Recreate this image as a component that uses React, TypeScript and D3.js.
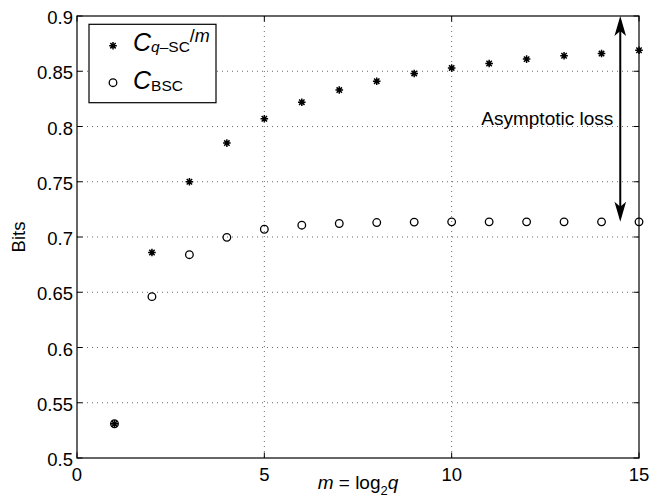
import React from "react";
import * as d3 from "d3";

const mValues = [1, 2, 3, 4, 5, 6, 7, 8, 9, 10, 11, 12, 13, 14, 15];
const cqscPerM = [0.531, 0.686, 0.75, 0.785, 0.807, 0.822, 0.833, 0.841, 0.848, 0.853, 0.857, 0.861, 0.864, 0.866, 0.869];
const cbsc = [0.531, 0.646, 0.684, 0.6997, 0.707, 0.7107, 0.7122, 0.7131, 0.7135, 0.7137, 0.7137, 0.7137, 0.7137, 0.7137, 0.7137];
const xTicks = [0, 5, 10, 15];
const xTickLabels = ["0", "5", "10", "15"];
const yTicks = [0.5, 0.55, 0.6, 0.65, 0.7, 0.75, 0.8, 0.85, 0.9];
const yTickLabels = ["0.5", "0.55", "0.6", "0.65", "0.7", "0.75", "0.8", "0.85", "0.9"];
const arrowM = 14.5;
const arrowTop = 0.9;
const arrowBottom = 0.7139;
const annotationText = "Asymptotic loss";
const annotationY = 0.801;

const W = 649;
const H = 504;
const left = 77, right = 639, top = 16, bottom = 458;
const FONT = "'Liberation Sans', Arial, Helvetica, sans-serif";

function starPath(cx: number, cy: number, r: number) {
  const p = d3.path();
  for (let k = 0; k < 4; k++) {
    const a = (k * Math.PI) / 4;
    const dx = Math.cos(a) * r, dy = Math.sin(a) * r;
    p.moveTo(cx - dx, cy - dy);
    p.lineTo(cx + dx, cy + dy);
  }
  return p.toString();
}

export default function App() {
  const x = d3.scaleLinear().domain([0, 15]).range([left, right]);
  const y = d3.scaleLinear().domain([0.5, 0.9]).range([bottom, top]);
  const tickLen = 5.5;

  const ax = x(arrowM);
  const ayTop = y(arrowTop);
  const ayBot = y(arrowBottom);
  const headL = 20, headW = 5.8, notch = 5;

  return (
    <svg width={W} height={H} style={{ position: "fixed", left: 0, top: 0, background: "#fff" }} fontFamily={FONT}>
      <rect x={0} y={0} width={W} height={H} fill="#fff" />
      {/* grid */}
      {xTicks.filter((t) => t > 0 && t < 15).map((t) => (
        <line key={"gx" + t} x1={x(t)} x2={x(t)} y1={top} y2={bottom} stroke="#444" strokeWidth={0.8} strokeDasharray="1,4" />
      ))}
      {yTicks.filter((t) => t > 0.5 && t < 0.9).map((t) => (
        <line key={"gy" + t} x1={left} x2={right} y1={y(t)} y2={y(t)} stroke="#444" strokeWidth={0.8} strokeDasharray="1,4" />
      ))}
      {/* ticks */}
      {xTicks.map((t) => (
        <g key={"tx" + t}>
          <line x1={x(t)} x2={x(t)} y1={bottom} y2={bottom - tickLen} stroke="#000" strokeWidth={1} />
          <line x1={x(t)} x2={x(t)} y1={top} y2={top + tickLen} stroke="#000" strokeWidth={1} />
        </g>
      ))}
      {yTicks.map((t) => (
        <g key={"ty" + t}>
          <line x1={left} x2={left + tickLen} y1={y(t)} y2={y(t)} stroke="#000" strokeWidth={1} />
          <line x1={right} x2={right - tickLen} y1={y(t)} y2={y(t)} stroke="#000" strokeWidth={1} />
        </g>
      ))}
      {/* tick labels */}
      {xTicks.map((t, i) => (
        <text key={"lx" + t} x={x(t)} y={bottom + 23} textAnchor="middle" fontSize={18.5} fill="#000">
          {xTickLabels[i]}
        </text>
      ))}
      {yTicks.map((t, i) => (
        <text key={"ly" + t} x={left - 4} y={y(t) + 8} textAnchor="end" fontSize={18.5} fill="#000">
          {yTickLabels[i]}
        </text>
      ))}
      {/* axis labels */}
      <text x={(left + right) / 2} y={489} textAnchor="middle" fontSize={19} fill="#000">
        <tspan fontStyle="italic">m</tspan>
        <tspan> = log</tspan>
        <tspan fontSize={13} dy={6}>2</tspan>
        <tspan fontStyle="italic" dy={-6}>q</tspan>
      </text>
      <text transform={`translate(25, ${(top + bottom) / 2}) rotate(-90)`} textAnchor="middle" fontSize={18.5} fill="#000">
        Bits
      </text>
      {/* data */}
      {mValues.map((m, i) => (
        <circle key={"c" + m} cx={x(m)} cy={y(cbsc[i])} r={3.8} fill="none" stroke="#000" strokeWidth={1.3} />
      ))}
      {mValues.map((m, i) => (
        <path key={"s" + m} d={starPath(x(m), y(cqscPerM[i]), 3.8)} stroke="#000" strokeWidth={1.5} fill="none" />
      ))}
      {/* frame */}
      <rect x={left} y={top} width={right - left} height={bottom - top} fill="none" stroke="#000" strokeWidth={1.2} />
      {/* arrow */}
      <line x1={ax} x2={ax} y1={ayTop + notch} y2={ayBot - notch} stroke="#000" strokeWidth={2} />
      <path d={`M${ax},${ayTop} L${ax + headW},${ayTop + headL} L${ax},${ayTop + headL - notch} L${ax - headW},${ayTop + headL} Z`} fill="#000" />
      <path d={`M${ax},${ayBot} L${ax + headW},${ayBot - headL} L${ax},${ayBot - headL + notch} L${ax - headW},${ayBot - headL} Z`} fill="#000" />
      <text x={ax - 7} y={y(annotationY)} textAnchor="end" fontSize={19} fill="#000">
        {annotationText}
      </text>
      {/* legend */}
      <rect x={89} y={24.3} width={127} height={78.4} fill="#fff" stroke="#000" strokeWidth={1.2} />
      <path d={starPath(113, 45.7, 3.8)} stroke="#000" strokeWidth={1.5} fill="none" />
      <circle cx={113} cy={82.7} r={3.8} fill="none" stroke="#000" strokeWidth={1.3} />
      <text x={133} y={50.7} fontSize={25} fill="#000">
        <tspan fontStyle="italic">C</tspan>
        <tspan fontSize={15.5} dy={1} fontStyle="italic">q</tspan>
        <tspan fontSize={15.5}>–SC</tspan>
        <tspan fontSize={18} dy={-9.5}>/</tspan>
        <tspan fontSize={18} fontStyle="italic">m</tspan>
      </text>
      <text x={133} y={89} fontSize={25} fill="#000">
        <tspan fontStyle="italic">C</tspan>
        <tspan fontSize={15.5} dy={2}>BSC</tspan>
      </text>
    </svg>
  );
}
